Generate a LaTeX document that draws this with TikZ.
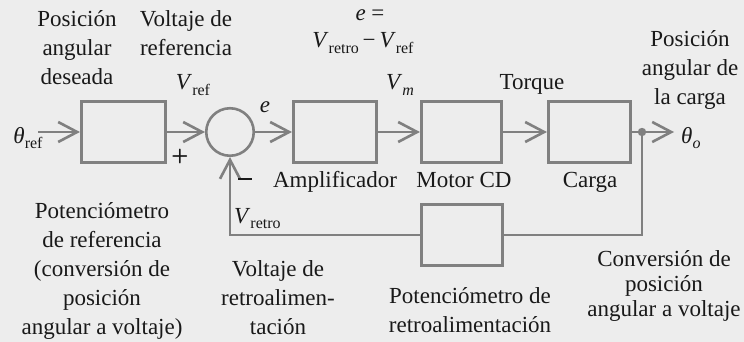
\documentclass[tikz,border=0pt]{standalone}
\usepackage{fontspec}
\setmainfont{Liberation Serif}
\usetikzlibrary{arrows.meta}
\definecolor{bgc}{RGB}{237,237,237}
\definecolor{lnc}{RGB}{128,128,128}
\definecolor{txc}{RGB}{25,25,25}
\newcommand\sbx[1]{\raisebox{-5.5pt}{\fontsize{16}{16}\selectfont #1}}
\begin{document}
\begin{tikzpicture}[x=1pt,y=-1pt,
  font=\fontsize{23}{29}\selectfont, text=txc,
  ln/.style={draw=lnc,line width=2.6pt},
  arr/.style={ln,-{Straight Barb[length=19pt,width=20pt]}},
  blk/.style={ln,rectangle,inner sep=0pt,minimum height=60.5pt},
  lbl/.style={inner sep=0pt,align=center,anchor=north},
  sgn/.style={inner sep=0pt,font=\fontsize{20}{24}\selectfont\sffamily\bfseries}]
\fill[bgc] (0,0) rectangle (744,342);
\useasboundingbox (0,0) rectangle (744,342);
% blocks
\node[blk,minimum width=84.5pt] (b1) at (123.5,132) {};
\node[ln,circle,inner sep=0pt,minimum size=47.5pt] (sum) at (230,132) {};
\node[blk,minimum width=83.5pt] (amp) at (335,132) {};
\node[blk,minimum width=80.5pt] (motor) at (461.5,132) {};
\node[blk,minimum width=82.5pt] (carga) at (589.5,132) {};
\node[blk,minimum width=81.5pt,minimum height=61.5pt] (fb) at (462,235) {};
\coordinate (in) at (38,132);
\coordinate (dot) at (642,132);
\coordinate (out) at (674,132);
% connectors
\draw[arr] (in) -- (b1.west);
\draw[arr] (b1.east) -- (sum.west);
\draw[arr] (sum.east) -- (amp.west);
\draw[arr] (amp.east) -- (motor.west);
\draw[arr] (motor.east) -- (carga.west);
\draw[arr] (carga.east) -- (out);
\draw[ln] (dot) |- (fb.east);
\draw[arr] (fb.west) -| (sum.south);
\fill[lnc] (dot) circle (4.2);
% signal labels
\node[inner sep=0pt,anchor=base] (tref) at (28,143) {\textit{θ}\sbx{ref}};
\node[inner sep=0pt,anchor=base west] (to) at (681,143) {\textit{θ}\sbx{\textit{o}}};
\node[inner sep=0pt,anchor=base] (vref) at (193,90) {\textit{V}\sbx{ref}};
\node[inner sep=0pt,anchor=base] (el) at (265,113) {\textit{e}};
\node[inner sep=0pt,anchor=base] (vm) at (400,90) {\textit{V}\sbx{\textit{m}}};
\node[inner sep=0pt,anchor=base] (tq) at (532,90) {Torque};
\node[inner sep=0pt,anchor=base] (eq1) at (370,21) {\textit{e} =};
\node[inner sep=0pt,anchor=base] (eq2) at (363,48) {\textit{V}\sbx{retro}\,−\,\textit{V}\sbx{ref}};
\node[inner sep=0pt,anchor=base west] (vretro) at (234,223) {\textit{V}\sbx{retro}};
\node[sgn] (plus) at (180,156) {+};
\node[inner sep=0pt] (minus) at (245,179) {\rule{14pt}{2.8pt}};
% block names
\node[inner sep=0pt,anchor=base] (lamp) at (335,187) {Amplificador};
\node[inner sep=0pt,anchor=base] (lmot) at (464,187) {Motor CD};
\node[inner sep=0pt,anchor=base] (lcar) at (590,187) {Carga};
% descriptions
\node[lbl] (d1) at (77,10) {Posición\\angular\\deseada};
\node[lbl] (d2) at (186,10) {Voltaje de\\referencia};
\node[lbl] (d3) at (690,30) {Posición\\angular de\\la carga};
\node[lbl] (d4) at (102,202) {Potenciómetro\\de referencia\\(conversión de\\posición\\angular a voltaje)};
\node[lbl] (d5) at (278,260) {Voltaje de\\retroalimen-\\tación};
\node[lbl] (d6) at (470,287) {Potenciómetro de\\retroalimentación};
\node[lbl,font=\fontsize{23}{25}\selectfont] (d7) at (664,250) {Conversión de\\posición\\angular a voltaje};
\end{tikzpicture}
\end{document}
